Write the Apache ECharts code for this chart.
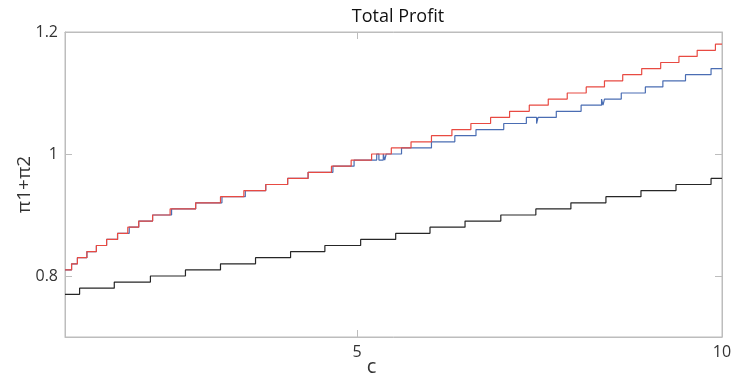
<!DOCTYPE html>
<html>
<head>
<meta charset="utf-8">
<script src="https://cdn.jsdelivr.net/npm/echarts@6/dist/echarts.min.js"></script>
<style>
  html, body { margin: 0; padding: 0; background: #fff; }
  #chart { width: 731px; height: 379px; }
</style>
</head>
<body>
<div id="chart"></div>
<script>
// Step breakpoints (x where the level changes) and the level that starts there.
const blackX = [1, 1.20, 1.675, 2.17, 2.65, 3.13, 3.61, 4.09, 4.56, 5.05, 5.53, 6.00, 6.48, 6.97, 7.45, 7.93, 8.41, 8.89, 9.37, 9.85, 10];
const blackY = [0.77, 0.78, 0.79, 0.80, 0.81, 0.82, 0.83, 0.84, 0.85, 0.86, 0.87, 0.88, 0.89, 0.90, 0.91, 0.92, 0.93, 0.94, 0.95, 0.96, 0.96];

const blueX = [1, 1.09, 1.17, 1.30, 1.43, 1.57, 1.72, 1.88, 2.01, 2.20, 2.46, 2.79, 3.15, 3.47, 3.75, 4.05, 4.33, 4.67, 4.96,
               5.27, 5.30, 5.36, 5.38, 5.40, 5.61, 6.02, 6.34, 6.63, 7.01, 7.32, 7.46, 7.48, 7.73, 8.07, 8.35, 8.37, 8.39,
               8.62, 8.95, 9.19, 9.50, 9.85, 10];
const blueY = [0.81, 0.82, 0.83, 0.84, 0.85, 0.86, 0.87, 0.88, 0.89, 0.90, 0.91, 0.92, 0.93, 0.94, 0.95, 0.96, 0.97, 0.98, 0.99,
               1.00, 0.99, 1.00, 0.99, 1.00, 1.01, 1.02, 1.03, 1.04, 1.05, 1.06, 1.05, 1.06, 1.07, 1.08, 1.09, 1.08, 1.09,
               1.10, 1.11, 1.12, 1.13, 1.14, 1.14];

const redX = [1, 1.09, 1.17, 1.30, 1.43, 1.57, 1.72, 1.86, 2.01, 2.20, 2.44, 2.79, 3.13, 3.45, 3.75, 4.05, 4.33, 4.65, 4.92,
              5.20, 5.47, 5.74, 6.02, 6.30, 6.56, 6.83, 7.09, 7.36, 7.62, 7.88, 8.14, 8.39, 8.64, 8.90, 9.16, 9.41, 9.66, 9.91, 10];
const redY = [0.81, 0.82, 0.83, 0.84, 0.85, 0.86, 0.87, 0.88, 0.89, 0.90, 0.91, 0.92, 0.93, 0.94, 0.95, 0.96, 0.97, 0.98, 0.99,
              1.00, 1.01, 1.02, 1.03, 1.04, 1.05, 1.06, 1.07, 1.08, 1.09, 1.10, 1.11, 1.12, 1.13, 1.14, 1.15, 1.16, 1.17, 1.18, 1.18];

const xTicks = [5, 10];
const yTicks = [0.8, 1.0, 1.2];

const pairs = (xs, ys) => xs.map((x, i) => [x, ys[i]]);

const FONT = '"Open Sans", Lato, sans-serif';
const AXIS_COLOR = '#bdbdbd';

const stepSeries = (name, xs, ys, color) => ({
  name, type: 'line', step: 'end', data: pairs(xs, ys),
  showSymbol: false, symbol: 'none', silent: true,
  lineStyle: { color, width: 1.2 }
});

const chart = echarts.init(document.getElementById('chart'));
chart.setOption({
  backgroundColor: '#fff',
  animation: false,
  title: {
    text: 'Total Profit', left: 393, top: 3, textAlign: 'center',
    textStyle: { fontFamily: FONT, fontSize: 18, fontWeight: 'normal', color: '#111' }
  },
  grid: {
    left: 65, right: 9, top: 32, bottom: 42,
    outerBoundsMode: 'none', containLabel: false,
    show: true, borderColor: AXIS_COLOR, borderWidth: 1
  },
  xAxis: [{
    type: 'value', min: 1, max: 10, position: 'bottom',
    name: 'c', nameLocation: 'middle', nameGap: 20, nameMoveOverlap: false,
    nameTextStyle: { fontFamily: FONT, fontSize: 20, color: '#333', padding: [0, 44, 0, 0] },
    axisLine: { show: true, lineStyle: { color: AXIS_COLOR } },
    axisTick: { show: true, inside: true, length: 7, customValues: xTicks, lineStyle: { color: AXIS_COLOR } },
    axisLabel: { customValues: xTicks, margin: 7, fontFamily: FONT, fontSize: 16, color: '#333' },
    splitLine: { show: false }
  }, {
    type: 'value', min: 1, max: 10, position: 'top',
    axisLine: { show: true, lineStyle: { color: AXIS_COLOR } },
    axisTick: { show: true, inside: true, length: 7, customValues: xTicks, lineStyle: { color: AXIS_COLOR } },
    axisLabel: { show: false }, splitLine: { show: false }
  }],
  yAxis: [{
    type: 'value', min: 0.7, max: 1.2, position: 'left',
    name: 'π1+π2', nameLocation: 'middle', nameGap: 31, nameRotate: 90, nameMoveOverlap: false,
    nameTextStyle: { fontFamily: FONT, fontSize: 19, color: '#333' },
    axisLine: { show: true, lineStyle: { color: AXIS_COLOR } },
    axisTick: { show: true, inside: true, length: 7, customValues: yTicks, lineStyle: { color: AXIS_COLOR } },
    axisLabel: {
      customValues: yTicks, margin: 7, fontFamily: FONT, fontSize: 16, color: '#333',
      formatter: v => String(Math.round(v * 10) / 10)
    },
    splitLine: { show: false }
  }, {
    type: 'value', min: 0.7, max: 1.2, position: 'right',
    axisLine: { show: true, lineStyle: { color: AXIS_COLOR } },
    axisTick: { show: true, inside: true, length: 7, customValues: yTicks, lineStyle: { color: AXIS_COLOR } },
    axisLabel: { show: false }, splitLine: { show: false }
  }],
  series: [
    stepSeries('black', blackX, blackY, '#262626'),
    stepSeries('blue', blueX, blueY, '#4a6db3'),
    stepSeries('red', redX, redY, '#e84a42')
  ]
});
</script>
</body>
</html>
